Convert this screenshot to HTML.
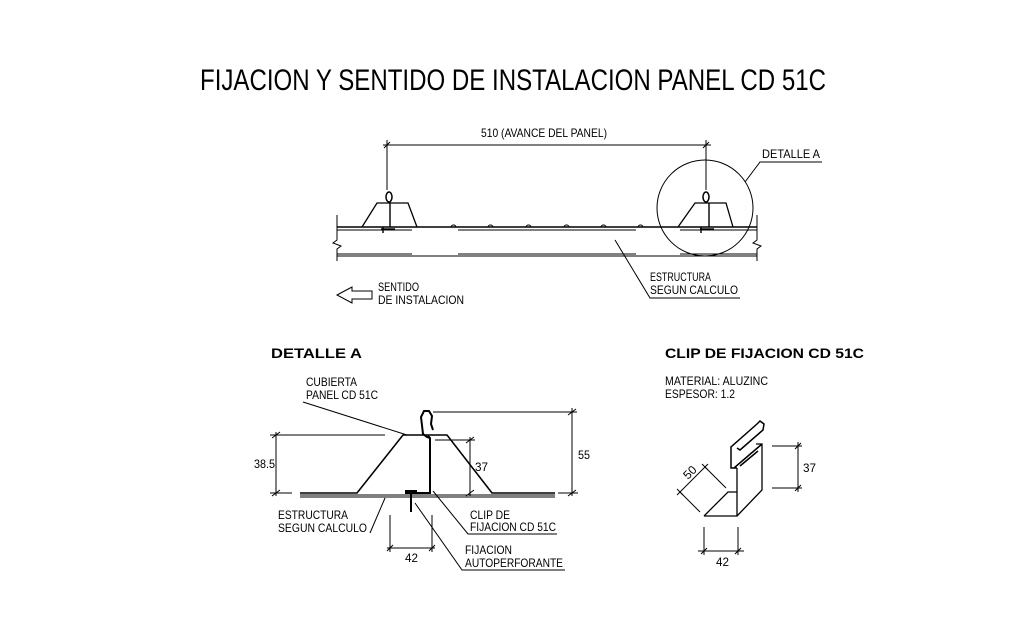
<!DOCTYPE html>
<html><head><meta charset="utf-8"><style>
html,body{margin:0;padding:0;background:#fff;width:1024px;height:639px;overflow:hidden}
svg text{font-family:"Liberation Sans",sans-serif;fill:#000}
</style></head><body>
<svg width="1024" height="639" viewBox="0 0 1024 639" xmlns="http://www.w3.org/2000/svg">
<g fill="none" stroke="#000" stroke-width="1">
<text x="200" y="90" font-size="30" textLength="626" lengthAdjust="spacingAndGlyphs" stroke="none">FIJACION Y SENTIDO DE INSTALACION PANEL CD 51C</text>

<!-- TOP DRAWING -->
<line x1="383" y1="145" x2="711" y2="145"/>
<line x1="384" y1="148" x2="390" y2="142"/>
<line x1="703" y1="148" x2="709" y2="142"/>
<line x1="387" y1="140" x2="387" y2="190"/>
<line x1="706" y1="140" x2="706" y2="190"/>
<text x="481" y="137" font-size="12" textLength="126" lengthAdjust="spacingAndGlyphs" stroke="none">510 (AVANCE DEL PANEL)</text>
<line x1="337" y1="227" x2="757" y2="227" stroke-width="1.6"/>
<path d="M362 227 L377 203 L408 203 L417 227" stroke-width="1.3"/>
<path d="M678 227 L695 203 L726 203 L733 227" stroke-width="1.3"/>
<line x1="390" y1="203" x2="390" y2="227" stroke-width="1.4"/>
<line x1="709" y1="203" x2="709" y2="227" stroke-width="1.4"/>
<ellipse cx="389" cy="197" rx="3" ry="5" stroke-width="1.5"/>
<ellipse cx="706" cy="197" rx="3" ry="5" stroke-width="1.5"/>
<line x1="381" y1="229" x2="395" y2="229" stroke-width="1.4"/>
<line x1="383" y1="227" x2="383" y2="233" stroke-width="1.4"/>
<line x1="700" y1="229" x2="714" y2="229" stroke-width="1.4"/>
<line x1="701" y1="227" x2="701" y2="233" stroke-width="1.4"/>
<g><path d="M451 227 a2.5 2 0 0 1 5 0"/><path d="M488 227 a2.5 2 0 0 1 5 0"/><path d="M526 227 a2.5 2 0 0 1 5 0"/><path d="M564 227 a2.5 2 0 0 1 5 0"/><path d="M601 227 a2.5 2 0 0 1 5 0"/><path d="M638 227 a2.5 2 0 0 1 5 0"/></g>
<line x1="337" y1="230" x2="412" y2="230"/><line x1="458" y1="230" x2="636" y2="230"/><line x1="680" y1="230" x2="757" y2="230"/>
<line x1="337" y1="254" x2="412" y2="254"/><line x1="458" y1="254" x2="636" y2="254"/><line x1="680" y1="254" x2="757" y2="254"/>
<line x1="337" y1="256" x2="757" y2="256"/>
<path d="M337 215 L337 240 L333 243 L341 246 L337 249 L337 261"/>
<path d="M757 215 L757 240 L753 243 L761 246 L757 249 L757 261"/>
<circle cx="705" cy="208" r="48"/>
<path d="M745 182 L760 162 L822 162"/>
<text x="762" y="158" font-size="12" textLength="58" lengthAdjust="spacingAndGlyphs" stroke="none">DETALLE  A</text>
<path d="M615 240 L650 298 L740 298"/>
<text x="650" y="281" font-size="12" textLength="61" lengthAdjust="spacingAndGlyphs" stroke="none">ESTRUCTURA</text>
<text x="650" y="294" font-size="12" textLength="88" lengthAdjust="spacingAndGlyphs" stroke="none">SEGUN CALCULO</text>
<path d="M337 295 L352 287 L352 291 L372 291 L372 299 L352 299 L352 303 Z"/>
<text x="378" y="291" font-size="12" textLength="41" lengthAdjust="spacingAndGlyphs" stroke="none">SENTIDO</text>
<text x="378" y="304" font-size="12" textLength="86" lengthAdjust="spacingAndGlyphs" stroke="none">DE INSTALACION</text>

<!-- DETALLE A -->
<text x="271" y="358" font-size="14" font-weight="bold" textLength="91" lengthAdjust="spacingAndGlyphs" stroke="none">DETALLE  A</text>
<text x="306" y="386" font-size="12" textLength="51" lengthAdjust="spacingAndGlyphs" stroke="none">CUBIERTA</text>
<text x="306" y="399" font-size="12" textLength="72" lengthAdjust="spacingAndGlyphs" stroke="none">PANEL CD 51C</text>
<path d="M303 402 L407 435"/>
<path d="M300 493 L357 493 L403 435 L447 435 L492 493 L555 493" stroke-width="1.6"/>
<line x1="300" y1="495" x2="555" y2="495"/>
<line x1="300" y1="497" x2="555" y2="497"/>
<path d="M405 493 L430 493 L430 438 L428 436 M430 438 L427 437 L423 434 L421 417 L424 411 L429 411 L432 416 L431 424 L433 430" stroke-width="2"/>
<line x1="411" y1="490" x2="411" y2="512" stroke-width="2"/>
<line x1="405" y1="491" x2="417" y2="491" stroke-width="2"/>
<line x1="270" y1="435" x2="385" y2="435"/>
<line x1="276" y1="432" x2="276" y2="496"/>
<line x1="272" y1="438" x2="280" y2="432"/><line x1="272" y1="496" x2="280" y2="490"/>
<line x1="270" y1="493" x2="292" y2="493"/>
<text x="254" y="468" font-size="12" textLength="21" lengthAdjust="spacingAndGlyphs" stroke="none">38.5</text>
<line x1="435" y1="440" x2="475" y2="440"/>
<line x1="470" y1="437" x2="470" y2="496"/>
<line x1="466" y1="443" x2="474" y2="437"/><line x1="466" y1="496" x2="474" y2="490"/>
<text x="475" y="471" font-size="12" textLength="13" lengthAdjust="spacingAndGlyphs" stroke="none">37</text>
<line x1="433" y1="412" x2="577" y2="412"/>
<line x1="572" y1="408" x2="572" y2="496"/>
<line x1="568" y1="415" x2="576" y2="409"/><line x1="568" y1="496" x2="576" y2="490"/>
<line x1="558" y1="493" x2="578" y2="493"/>
<text x="578" y="459" font-size="12" textLength="12" lengthAdjust="spacingAndGlyphs" stroke="none">55</text>
<line x1="390" y1="515" x2="390" y2="552"/><line x1="432" y1="515" x2="432" y2="552"/>
<line x1="387" y1="548" x2="435" y2="548"/>
<line x1="387" y1="551" x2="393" y2="545"/><line x1="429" y1="551" x2="435" y2="545"/>
<text x="405" y="562" font-size="12" textLength="13" lengthAdjust="spacingAndGlyphs" stroke="none">42</text>
<text x="278" y="519" font-size="12" textLength="70" lengthAdjust="spacingAndGlyphs" stroke="none">ESTRUCTURA</text>
<text x="278" y="532" font-size="12" textLength="89" lengthAdjust="spacingAndGlyphs" stroke="none">SEGUN CALCULO</text>
<path d="M370 533 L385 498"/>
<text x="470" y="519" font-size="12" textLength="40" lengthAdjust="spacingAndGlyphs" stroke="none">CLIP DE</text>
<text x="470" y="531" font-size="12" textLength="86" lengthAdjust="spacingAndGlyphs" stroke="none">FIJACION CD 51C</text>
<path d="M433 491 L468 534 L557 534"/>
<text x="465" y="554" font-size="12" textLength="47" lengthAdjust="spacingAndGlyphs" stroke="none">FIJACION</text>
<text x="465" y="567" font-size="12" textLength="98" lengthAdjust="spacingAndGlyphs" stroke="none">AUTOPERFORANTE</text>
<path d="M415 503 L462 570 L565 570"/>

<!-- CLIP -->
<text x="665" y="358" font-size="14" font-weight="bold" textLength="199" lengthAdjust="spacingAndGlyphs" stroke="none">CLIP DE FIJACION CD 51C</text>
<text x="665" y="385" font-size="12" textLength="103" lengthAdjust="spacingAndGlyphs" stroke="none">MATERIAL:  ALUZINC</text>
<text x="665" y="398" font-size="12" textLength="70" lengthAdjust="spacingAndGlyphs" stroke="none">ESPESOR: 1.2</text>
<path d="M704 516 L737 516 L737 468 M704 516 L728 492 L737 492 M737 516 L762 490 L762 444 L756 444" stroke-width="1.3"/>
<path d="M737 468 L731 468 L731 447 L757 424 L760 421 L764 424 L763 430 L740 450 L737 448 M731 468 L734 468 L762 444 M740 466 L758 451" stroke-width="1.5"/>
<line x1="772" y1="446" x2="802" y2="446"/><line x1="772" y1="488" x2="802" y2="488"/>
<line x1="798" y1="442" x2="798" y2="492"/>
<line x1="795" y1="449" x2="801" y2="443"/><line x1="795" y1="491" x2="801" y2="485"/>
<text x="803" y="472" font-size="12" textLength="13" lengthAdjust="spacingAndGlyphs" stroke="none">37</text>
<line x1="677" y1="495" x2="708" y2="464"/>
<line x1="680" y1="492" x2="700" y2="512"/><line x1="705" y1="467" x2="726" y2="488"/>
<line x1="677" y1="489" x2="683" y2="495"/><line x1="702" y1="464" x2="708" y2="470"/>
<text x="0" y="0" font-size="12" stroke="none" transform="translate(688 480) rotate(-45)">50</text>
<line x1="704" y1="527" x2="704" y2="555"/><line x1="738" y1="527" x2="738" y2="555"/>
<line x1="698" y1="551" x2="744" y2="551"/>
<line x1="701" y1="554" x2="707" y2="548"/><line x1="735" y1="554" x2="741" y2="548"/>
<text x="716" y="566" font-size="12" textLength="13" lengthAdjust="spacingAndGlyphs" stroke="none">42</text>
</g>
</svg>
</body></html>
